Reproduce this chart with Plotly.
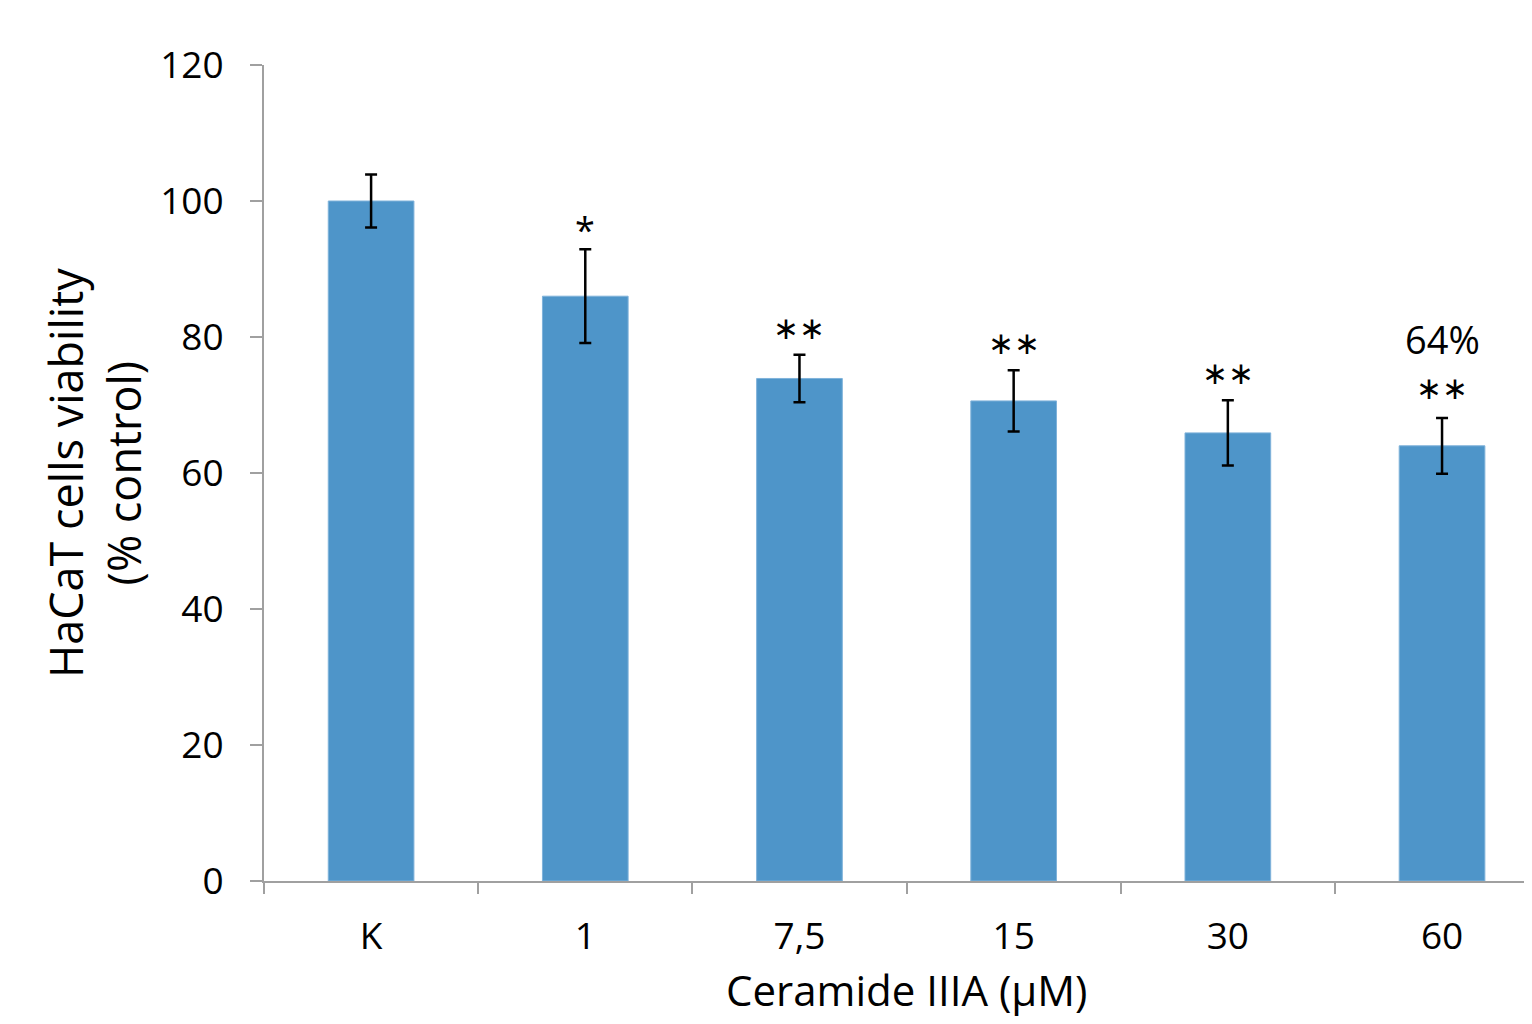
import plotly.graph_objects as go

categories = ["K", "1", "7,5", "15", "30", "60"]
viability = [100.0, 86.0, 73.9, 70.6, 65.9, 64.0]
errors = [3.9, 6.9, 3.5, 4.5, 4.8, 4.1]
sig_labels = ["", "*", "∗∗", "∗∗", "∗∗", "∗∗"]
extra_label = "64%"
y_ticks = [0, 20, 40, 60, 80, 100, 120]

FONT = "Open Sans"
BAR = "#4E95C9"
AXIS = "#A0A0A0"

fig = go.Figure()
fig.add_trace(go.Bar(
    x=list(range(len(categories))), y=viability,
    marker=dict(color=BAR, line=dict(color="#7FB2DA", width=1)),
    error_y=dict(type="data", array=errors, visible=True,
                 color="black", thickness=2.5, width=6),
    width=0.4,
))

sig_shift = [0, 14, 28, 28, 28, 31]
for i, lab in enumerate(sig_labels):
    if not lab:
        continue
    fig.add_annotation(
        x=i, y=viability[i] + errors[i], text=lab, showarrow=False,
        yanchor="middle", yshift=sig_shift[i] + (6 if lab == "*" else 0),
        font=dict(family=FONT, size=36 if lab == "*" else 31, color="black"),
    )
fig.add_annotation(
    x=len(categories) - 1, y=viability[-1] + errors[-1], text=extra_label,
    showarrow=False, yanchor="middle", yshift=79,
    font=dict(family=FONT, size=38, color="black"),
)

fig.add_annotation(
    xref="paper", yref="paper", x=-0.1333, y=0.5,
    text="HaCaT cells viability<br>(% control)", textangle=-90,
    showarrow=False, xanchor="center", yanchor="middle",
    font=dict(family=FONT, size=45, color="black"),
)
fig.add_annotation(
    xref="paper", yref="paper", x=0.507, y=-0.133,
    text="Ceramide IIIA (µM)", showarrow=False,
    xanchor="center", yanchor="middle",
    font=dict(family=FONT, size=42, color="black"),
)

fig.update_layout(
    width=1524, height=1016,
    margin=dict(l=256, r=0, t=57, b=143),
    paper_bgcolor="white", plot_bgcolor="white",
    showlegend=False,
    font=dict(family=FONT, color="black"),
    xaxis=dict(
        range=[-0.5, 5.42],
        tickmode="array", tickvals=list(range(len(categories))), ticktext=categories,
        showline=True, linecolor=AXIS, linewidth=2,
        ticks="", showgrid=False, zeroline=False,
        tickfont=dict(family=FONT, size=37, color="black"),
        ticklabelstandoff=22,
    ),
    xaxis2=dict(
        overlaying="x", matches="x", anchor="y",
        tickmode="array", tickvals=[i - 0.5 for i in range(len(categories))],
        showticklabels=False, ticks="outside", ticklen=12,
        tickcolor=AXIS, tickwidth=2, showgrid=False, zeroline=False,
        showline=False, side="bottom",
    ),
    yaxis=dict(
        range=[0, 120], tickvals=y_ticks,
        showline=True, linecolor=AXIS, linewidth=2,
        ticks="outside", ticklen=12, tickcolor=AXIS, tickwidth=2,
        tickfont=dict(family=FONT, size=37, color="black"),
        ticklabelstandoff=19,
        showgrid=False, zeroline=False,
    ),
)
# invisible trace to activate the boundary-tick axis
fig.add_trace(go.Scatter(x=[0], y=[0], xaxis="x2", mode="markers",
                         marker=dict(opacity=0), hoverinfo="skip"))

fig.write_html("out.html")
